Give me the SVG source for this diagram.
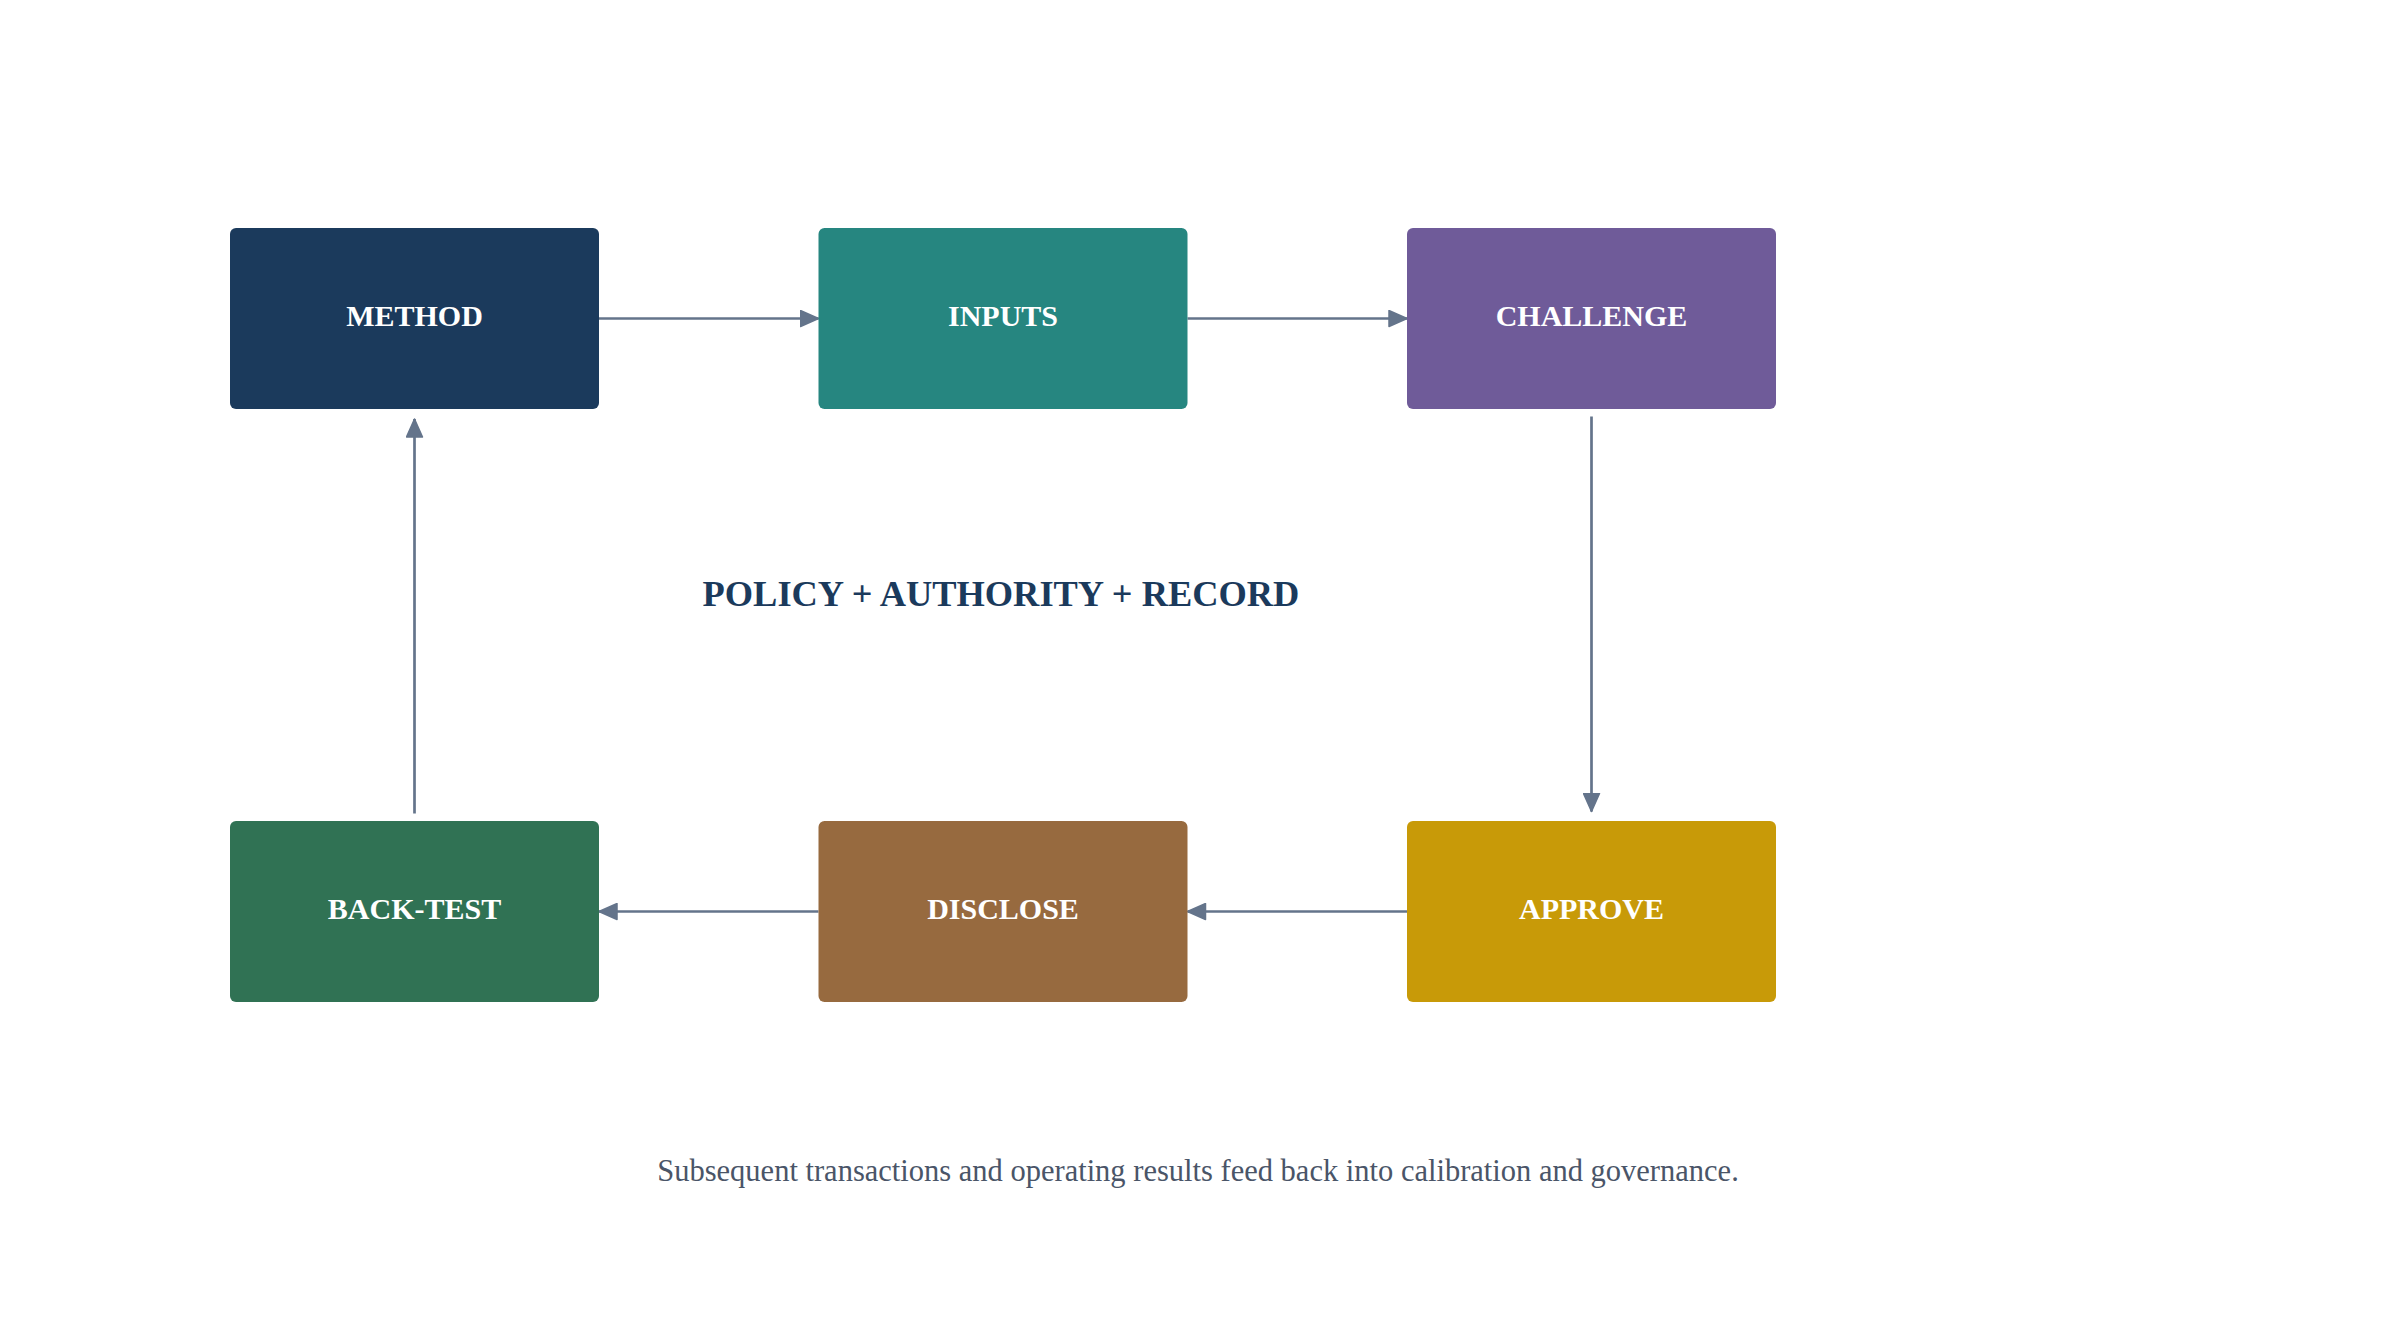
<svg xmlns="http://www.w3.org/2000/svg" width="2397" height="1342" viewBox="0 0 2397 1342">
  <style>
    .box { stroke: none; }
    .label { font-family: "Liberation Serif", "Times New Roman", serif; font-weight: bold; font-size: 30px; fill: #ffffff; text-anchor: middle; }
    .title { font-family: "Liberation Serif", "Times New Roman", serif; font-weight: bold; font-size: 36.4px; fill: #1b3a5c; text-anchor: middle; }
    .note { font-family: "Liberation Serif", "Times New Roman", serif; font-size: 30.5px; fill: #4a5568; text-anchor: middle; }
    .conn { stroke: #64748b; stroke-width: 2.7; fill: none; marker-end: url(#arrow); }
  </style>
  <defs>
    <marker id="arrow" viewBox="0 0 20 18" refX="19" refY="9" markerWidth="20" markerHeight="18" markerUnits="userSpaceOnUse" orient="auto">
      <path d="M1,1 L19,9 L1,17 Z" fill="#64748b" stroke="#64748b" stroke-width="1.5" stroke-linejoin="round"/>
    </marker>
  </defs>
  <rect width="2397" height="1342" fill="#ffffff"/>

  <g id="connectors">
    <line class="conn" x1="599" y1="318.5" x2="818.5" y2="318.5"/>
    <line class="conn" x1="1187.5" y1="318.5" x2="1407" y2="318.5"/>
    <line class="conn" x1="1591.5" y1="416.5" x2="1591.5" y2="811.5"/>
    <line class="conn" x1="1407" y1="911.5" x2="1187.5" y2="911.5"/>
    <line class="conn" x1="818.5" y1="911.5" x2="599" y2="911.5"/>
    <line class="conn" x1="414.5" y1="813.5" x2="414.5" y2="419"/>
  </g>

  <g id="node-method">
    <rect class="box" x="230" y="228" width="369" height="181" rx="6" fill="#1b3a5c"/>
    <text class="label" x="414.5" y="326">METHOD</text>
  </g>
  <g id="node-inputs">
    <rect class="box" x="818.5" y="228" width="369" height="181" rx="6" fill="#268680"/>
    <text class="label" x="1003" y="326">INPUTS</text>
  </g>
  <g id="node-challenge">
    <rect class="box" x="1407" y="228" width="369" height="181" rx="6" fill="#6f5b99"/>
    <text class="label" x="1591.5" y="326">CHALLENGE</text>
  </g>
  <g id="node-approve">
    <rect class="box" x="1407" y="821" width="369" height="181" rx="6" fill="#c89a08"/>
    <text class="label" x="1591.5" y="918.5">APPROVE</text>
  </g>
  <g id="node-disclose">
    <rect class="box" x="818.5" y="821" width="369" height="181" rx="6" fill="#976a3f"/>
    <text class="label" x="1003" y="918.5">DISCLOSE</text>
  </g>
  <g id="node-backtest">
    <rect class="box" x="230" y="821" width="369" height="181" rx="6" fill="#307254"/>
    <text class="label" x="414.5" y="918.5">BACK-TEST</text>
  </g>

  <g id="center-title">
    <text class="title" x="1001" y="606">POLICY + AUTHORITY + RECORD</text>
  </g>
  <g id="footnote">
    <text class="note" x="1198" y="1181">Subsequent transactions and operating results feed back into calibration and governance.</text>
  </g>
</svg>
